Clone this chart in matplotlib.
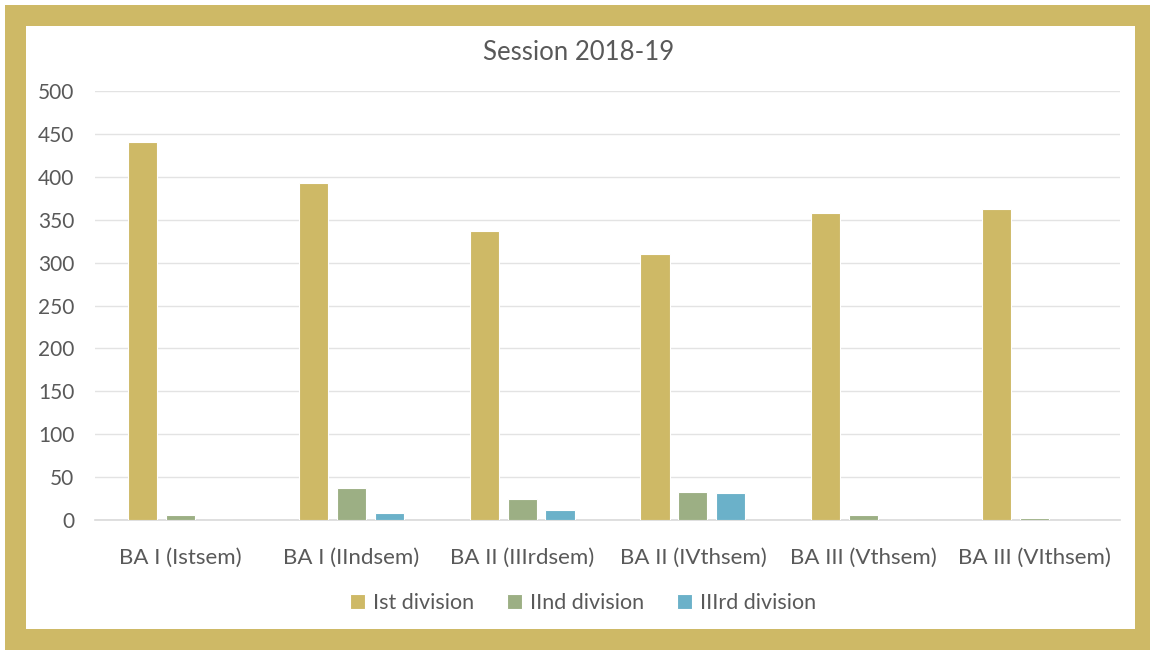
import matplotlib
matplotlib.use("Agg")
import matplotlib.pyplot as plt
from matplotlib.patches import Rectangle
import numpy as np

plt.rcParams["font.family"] = ["Lato", "DejaVu Sans"]

categories = ["BA I (Istsem)", "BA I (IIndsem)", "BA II (IIIrdsem)",
              "BA II (IVthsem)", "BA III (Vthsem)", "BA III (VIthsem)"]
series_names = ["Ist division", "IInd division", "IIIrd division"]
first_div = [441, 393, 337, 310, 358, 363]
second_div = [6, 37, 25, 33, 6, 2]
third_div = [0, 8, 12, 32, 0, 0]
colors = ["#CEB966", "#9CAF84", "#6BB1C9"]

W, H = 1151, 655
fig = plt.figure(figsize=(W / 100, H / 100), dpi=100)
fig.patch.set_facecolor("white")

# gold frame around the chart area (drawn under the axes)
fig.patches.append(Rectangle((5 / W, 5 / H), 1145 / W, 645 / H, transform=fig.transFigure,
                             facecolor="#CEB966", edgecolor="none", zorder=-2))
fig.patches.append(Rectangle((26 / W, 26 / H), 1109 / W, 603 / H, transform=fig.transFigure,
                             facecolor="white", edgecolor="none", zorder=-1))

ax = fig.add_axes([95 / W, (H - 520) / H, (1120 - 95) / W, (520 - 91) / H])
ax.set_facecolor("none")

x = np.arange(len(categories))
step, bw = 0.222, 0.17
for i, (vals, name) in enumerate(zip([first_div, second_div, third_div], series_names)):
    ax.bar(x + (i - 1) * step, vals, bw, color=colors[i], label=name,
           edgecolor="white", linewidth=0.8, zorder=3)

ax.set_xlim(-0.5, len(categories) - 0.5)
ax.set_ylim(0, 500)
ax.set_yticks(range(0, 501, 50))
ax.yaxis.grid(True, color="#E3E3E3", linewidth=1.0, zorder=0)
ax.set_axisbelow(True)
for s in ["top", "right", "left"]:
    ax.spines[s].set_visible(False)
ax.spines["bottom"].set_color("#D9D9D9")
ax.spines["bottom"].set_linewidth(1.2)
ax.tick_params(axis="y", length=0, pad=15, labelsize=15, labelcolor="#595959")
ax.tick_params(axis="x", length=0, pad=20, labelsize=16, labelcolor="#595959")
ax.set_xticks(x)
ax.set_xticklabels(categories)

fig.text(579 / W, 1 - 53 / H, "Session 2018-19", ha="center", va="center",
         fontsize=18.5, color="#595959")

ax.legend(loc="center", bbox_to_anchor=(583 / W, 1 - 603 / H), bbox_transform=fig.transFigure,
          ncol=3, frameon=False, fontsize=15.5, labelcolor="#595959",
          handlelength=0.7, handleheight=0.7, handletextpad=0.4, columnspacing=1.5)

fig.savefig("out.png", dpi=100)
